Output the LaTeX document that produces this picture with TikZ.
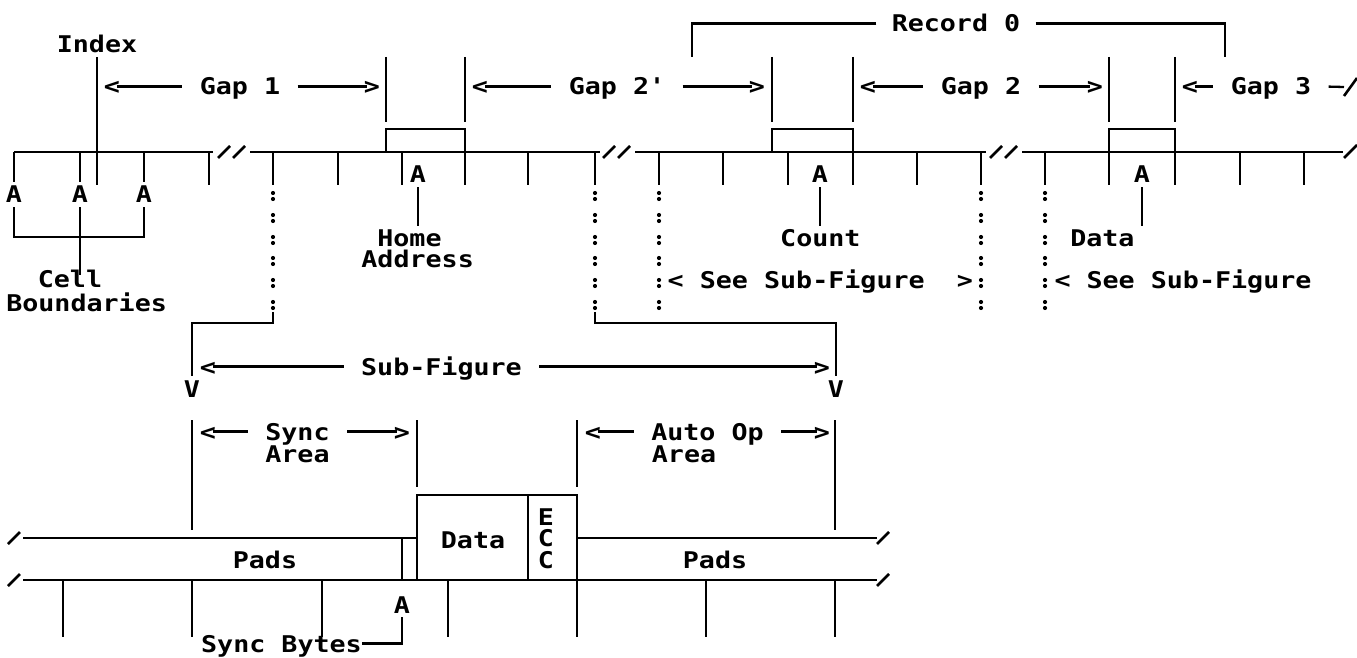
\documentclass[tikz,border=0pt]{standalone}
\usepackage{fontspec}
\newfontfamily\ibmmono[FakeStretch=1.16, Ligatures=TeXOff]{DejaVu Sans Mono}
\usetikzlibrary{calc}

\begin{document}
\begin{tikzpicture}[
    x={(0.5pt,0pt)}, y={(0pt,-0.5pt)},
    every node/.style={font=\ibmmono\bfseries\fontsize{11.5pt}{13pt}\selectfont,
      inner xsep=0pt, inner ysep=2pt, text height=8.4pt, text depth=0pt, anchor=base},
    track/.style={line width=1.4pt},
    tickline/.style={line width=1.3pt},
    lead/.style={line width=1.15pt},
    gaplbl/.style={inner xsep=8.5pt},
    chev/.style={inner xsep=-1.5pt},
  ]
    \useasboundingbox (0,0) rectangle (1357,658);

    % #1 name, #2 x of <, #3 x of label, #4 x of >, #5 baseline, #6 label
    \newcommand{\gaparrow}[6]{%
      \node[chev] (#1l) at (#2,#5) {<};
      \node[gaplbl] (#1) at (#3,#5) {#6};
      \node[chev] (#1r) at (#4,#5) {>};
      \draw[lead] (#1l.east) -- (#1.west);
      \draw[lead] (#1.east) -- (#1r.west);
    }

    % ============ top: track with HA, count and data ============
    \node[gaplbl, inner xsep=7.5pt] (rec) at (956,32) {Record 0};
    \draw[lead] (rec.west) -| (692,57);
    \draw[lead] (rec.east) -| (1225,57);

    \node (idx) at (97,53) {Index};
    \draw[tickline] (idx.south) -- (97,185);

    \gaparrow{gapa}{112}{240}{372}{95}{Gap 1}
    \gaparrow{gapb}{480}{617}{757}{95}{Gap 2'}
    \gaparrow{gapc}{868}{981}{1095}{95}{Gap 2}
    \node[chev] (gapdl) at (1190,95) {<};
    \node[gaplbl] (gapd) at (1271,95) {Gap 3};
    \draw[lead] (gapdl.east) -- (gapd.west);
    \draw[lead] (gapd.east) -- (1344,87);
    \draw[tickline] (1344,96) -- (1357,78);

    \foreach \x in {386,465,772,853,1109,1175}{
      \draw[tickline] (\x,57) -- (\x,122);
    }

    % fields sitting on the track
    \draw[track] (386,152) |- (465,129) -- (465,185);
    \draw[track] (772,152) |- (853,129) -- (853,185);
    \draw[track] (1109,185) |- (1175,129) -- (1175,185);

    % the track and its breaks
    \draw[track] (14,152) -- (213,152);
    \draw[track] (250,152) -- (600,152);
    \draw[track] (635,152) -- (986,152);
    \draw[track] (1022,152) -- (1343,152);
    \foreach \x in {218,233,603,618,990,1005}{
      \draw[tickline] (\x,158) -- ++(12,-12);
    }
    \draw[tickline] (1344,158) -- ++(13,-13);
    \foreach \x in {209,273,338,402,528,595,659,723,788,917,981,1045,1240,1304}{
      \draw[tickline] (\x,152) -- (\x,185);
    }

    % cell boundaries
    \foreach \x/\n in {14/1,80/2,144/3}{
      \node (cb\n) at (\x,203) {A};
      \draw[tickline] (\x,152) -- (cb\n.north);
    }
    \draw[tickline] (cb1.south) -- (14,237) -- (144,237) -- (cb3.south);
    \draw[tickline] (cb2.south) -- (80,275);
    \node (cell) at (70,288) {Cell};
    \node (bnd) at (86.6,312) {Boundaries};

    % pointers to the fields
    \node (aha) at (418,183) {A};
    \node (home) at (409.5,247) {Home};
    \node (addr) at (417.6,268) {Address};
    \draw[tickline] (aha.south) -- (aha.south |- home.north);
    \node (acnt) at (820,183) {A};
    \node (cnt) at (820.4,247) {Count};
    \draw[tickline] (acnt.south) -- (acnt.south |- cnt.north);
    \node (adat) at (1142,183) {A};
    \node (dat) at (1102.4,247) {Data};
    \draw[tickline] (adat.south) -- (adat.south |- dat.north);

    % dotted leaders
    \foreach \x in {273,595,659,981,1045}{
      \foreach \y in {196,218,240,261,283,305}{
        \fill (\x,\y-3) circle[radius=2.1];
        \fill (\x,\y+3) circle[radius=2.1];
      }
    }
    \node (seea) at (820.3,289) {< See Sub-Figure\ \ >};
    \node (seeb) at (1183,289) {< See Sub-Figure};

    % ============ bottom: sub-figure ============
    \node (vl) at (192,397) {V};
    \node (vr) at (836,397) {V};
    \draw[lead] (273,312) -- (273,323) -- (192,323) -- (vl.north);
    \draw[lead] (595,312) -- (595,323) -- (836,323) -- (vr.north);
    \gaparrow{subf}{208}{441.5}{822}{375}{Sub-Figure}

    \draw[tickline] (192,420) -- (192,530);
    \draw[tickline] (417,420) -- (417,487);
    \draw[tickline] (577,420) -- (577,487);
    \draw[tickline] (835,420) -- (835,530);
    \gaparrow{sync}{208}{297.5}{402}{440}{Sync}
    \node (synca) at (297.5,462) {Area};
    \gaparrow{auto}{593}{707.5}{822}{440}{Auto Op}
    \node (autoa) at (684,462) {Area};

    % band with pads, data and ECC
    \draw[track] (23,538) -- (417,538);
    \draw[track] (577,538) -- (877,538);
    \draw[track] (23,580) -- (877,580);
    \foreach \x/\y in {8/544,8/586,877/544,877/586}{
      \draw[tickline] (\x,\y) -- ++(12,-12);
    }
    \draw[track] (417,580) |- (577,495) -- (577,580);
    \draw[tickline] (528,495) -- (528,580);
    \draw[tickline] (402,538) -- (402,580);
    \node (padl) at (265,568) {Pads};
    \node (padr) at (715,568) {Pads};
    \node (bdat) at (473,548) {Data};
    \foreach \ch/\yy [count=\i] in {E/525,C/546,C/568}{
      \node (ecc\i) at (546,\yy) {\ch};
    }

    \foreach \x in {63,192,322,448,577,706,835}{
      \draw[tickline] (\x,580) -- (\x,637);
    }
    \node (asb) at (402,613) {A};
    \node (sbytes) at (281.5,652) {Sync Bytes};
    \draw[tickline] (asb.south) |- (sbytes.east);
  \end{tikzpicture}
\end{document}
